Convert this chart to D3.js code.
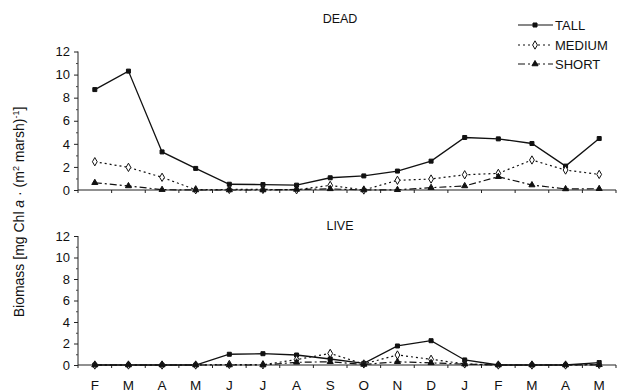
<!DOCTYPE html>
<html><head><meta charset="utf-8">
<script src="https://cdn.jsdelivr.net/npm/d3@7"></script>
<style>body{margin:0;background:#fff}svg{display:block;font-family:"Liberation Sans",Arial,sans-serif}</style>
</head><body><svg id="c" width="618" height="392"></svg>
<script>
const months = ["F","M","A","M","J","J","A","S","O","N","D","J","F","M","A","M"];
const yTicks = [0,2,4,6,8,10,12];
const seriesNames = ["TALL","MEDIUM","SHORT"];
const deadTall   = [8.7,10.3,3.3,1.87,0.5,0.47,0.42,1.06,1.22,1.64,2.5,4.55,4.43,4.03,2.07,4.46];
const deadMedium = [2.45,1.96,1.1,0.02,0.05,0.05,0.02,0.4,0.0,0.84,0.95,1.32,1.44,2.6,1.73,1.35];
const deadShort  = [0.63,0.35,0.03,0.0,0.0,0.0,0.05,0.1,0.0,0.02,0.2,0.35,1.15,0.43,0.09,0.11];
const liveTall   = [0,0,0,0,1.0,1.05,0.93,0.56,0.15,1.77,2.26,0.47,0.0,0.0,0.0,0.23];
const liveMedium = [0,0,0,0,0.05,0.02,0.5,1.08,0.1,0.93,0.53,0.1,0,0,0,0.05];
const liveShort  = [0,0,0,0,0.0,0.0,0.25,0.3,0.05,0.3,0.2,0.08,0,0,0,0.02];

const svg = d3.select("#c");
const x = d3.scaleBand().domain(d3.range(months.length)).range([78,616]);
const styles = {
  TALL:{dash:null, sym:d3.symbolSquare, size:16, fill:"#111"},
  MEDIUM:{dash:"2,3", sym:d3.symbolDiamond, size:20, fill:"#fff"},
  SHORT:{dash:"7,3,2,3", sym:d3.symbolTriangle, size:16, fill:"#111"}
};

function panel(top, bottom, title, titleY, data, labels){
  const y = d3.scaleLinear().domain([0,12]).range([bottom, top]);
  const g = svg.append("g");
  const ya = g.append("g").attr("transform","translate(78,0)")
    .call(d3.axisLeft(y).tickValues(yTicks).tickSize(4).tickPadding(4));
  ya.select(".domain").attr("d",`M0,${y(12)}V${y(0)}`).attr("stroke","#222");
  ya.selectAll("text").attr("font-size",13).attr("fill","#111");
  ya.selectAll("line").attr("stroke","#222");
  g.append("g").attr("transform","translate(78,0)")
    .call(d3.axisLeft(y).tickValues(d3.range(1,12,2)).tickSize(2).tickFormat(""))
    .call(s=>s.select(".domain").remove()).selectAll("line").attr("stroke","#444");
  g.append("line").attr("x1",78).attr("x2",616).attr("y1",y(0)).attr("y2",y(0)).attr("stroke","#222").attr("stroke-width",1.2);
  g.selectAll(".xt").data(d3.range(months.length+1)).join("line")
    .attr("x1",i=>78+i*x.step()).attr("x2",i=>78+i*x.step())
    .attr("y1",y(0)).attr("y2",y(0)+3).attr("stroke","#222");
  if(labels){
    g.selectAll(".ml").data(months).join("text")
      .attr("x",(d,i)=>x(i)+x.bandwidth()/2).attr("y",y(0)+25)
      .attr("text-anchor","middle").attr("font-size",13.5).attr("fill","#111").text(d=>d);
  }
  g.append("text").attr("x",340).attr("y",titleY).attr("text-anchor","middle")
    .attr("font-size",12.5).attr("fill","#111").text(title);
  seriesNames.forEach((n,k)=>{
    const st = styles[n], vals = data[k];
    const line = d3.line().x((d,i)=>x(i)+x.bandwidth()/2).y(d=>y(d));
    g.append("path").attr("d",line(vals)).attr("fill","none").attr("stroke","#111")
      .attr("stroke-width",n==="TALL"?1.3:1.2).attr("stroke-dasharray",st.dash);
    g.selectAll(".p"+k).data(vals).join("path")
      .attr("transform",(d,i)=>`translate(${x(i)+x.bandwidth()/2},${y(d)})`)
      .attr("d",d3.symbol(st.sym,st.size)).attr("fill",st.fill).attr("stroke","#111").attr("stroke-width",1);
  });
}
panel(51.5,190,"DEAD",23,[deadTall,deadMedium,deadShort],false);
panel(236,365,"LIVE",230,[liveTall,liveMedium,liveShort],true);

const lg = svg.append("g");
seriesNames.forEach((n,k)=>{
  const st = styles[n], yy = [25,45,64][k];
  lg.append("line").attr("x1",518).attr("x2",553).attr("y1",yy).attr("y2",yy)
    .attr("stroke","#111").attr("stroke-width",1.2).attr("stroke-dasharray",st.dash);
  lg.append("path").attr("transform",`translate(535,${yy})`).attr("d",d3.symbol(st.sym,st.size))
    .attr("fill",st.fill).attr("stroke","#111");
  lg.append("text").attr("x",555).attr("y",yy+4.5).attr("font-size",13).attr("fill","#111").text(n);
});

const yl = svg.append("text").attr("transform","translate(24,212) rotate(-90)")
  .attr("text-anchor","middle").attr("font-size",14).attr("fill","#111");
yl.append("tspan").text("Biomass [mg Chl ");
yl.append("tspan").attr("font-style","italic").text("a");
yl.append("tspan").text(" · (m");
yl.append("tspan").attr("font-size",9).attr("dy",-5).text("2");
yl.append("tspan").attr("dy",5).text(" marsh)");
yl.append("tspan").attr("font-size",9).attr("dy",-5).text("-1");
yl.append("tspan").attr("dy",5).text("]");
</script></body></html>
